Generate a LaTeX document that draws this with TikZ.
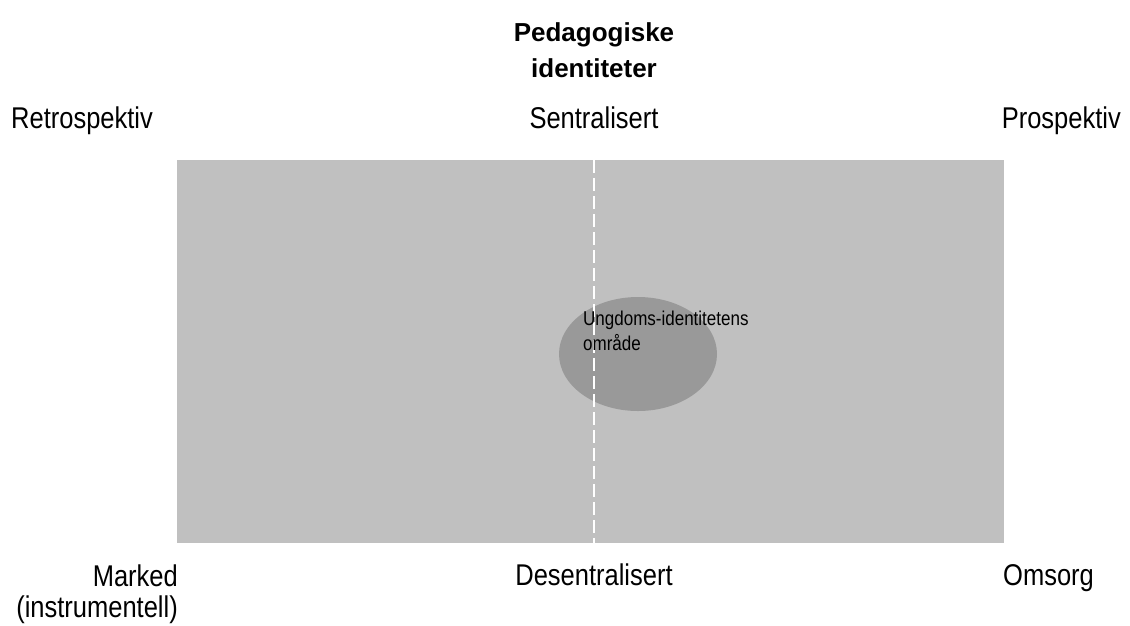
\documentclass[tikz,border=0pt]{standalone}
\usepackage{fontspec}
\setmainfont{Liberation Sans}
\newfontfamily\narrowfont[FakeStretch=0.85]{Liberation Sans}
\usetikzlibrary{shapes.geometric}
\begin{document}
\begin{tikzpicture}[x=1pt,y=-1pt,
  lbl/.style={font=\narrowfont\fontsize{30}{31}\selectfont, inner sep=0pt},
  ttl/.style={font=\fontsize{26}{36}\selectfont\bfseries, inner sep=0pt, align=center},
  small/.style={font=\narrowfont\fontsize{20}{25}\selectfont, inner sep=0pt, align=left}]
\useasboundingbox (0,0) rectangle (1130,625);
\fill[fill=white] (0,0) rectangle (1130,625);
\node[fill={rgb,255:red,192;green,192;blue,192}, minimum width=827pt, minimum height=383pt, inner sep=0pt, anchor=north west] (field) at (177,160) {};
\node[ellipse, fill={rgb,255:red,153;green,153;blue,153}, minimum width=158pt, minimum height=114pt, inner sep=0pt] (zone) at (638,354) {};
\coordinate (ctop) at (594,160);
\coordinate (cbot) at (594,543);
\draw[white, line width=1.5pt, dash pattern=on 13pt off 5pt] (ctop) -- (cbot);
\node[ttl, anchor=base] (title) at (594,77) {Pedagogiske\\identiteter};
\node[lbl, anchor=base west] (retro) at (11,128) {Retrospektiv};
\node[lbl, anchor=base] (sentr) at (594,128) {Sentralisert};
\node[lbl, anchor=base east] (pros) at (1121,128) {Prospektiv};
\node[lbl, anchor=base east, align=right] (mark) at (178,617) {Marked\\(instrumentell)};
\node[lbl, anchor=base] (desentr) at (594,585) {Desentralisert};
\node[lbl, anchor=base west] (oms) at (1003,585) {Omsorg};
\node[small, anchor=base west] (ung) at (583,350) {Ungdoms-identitetens\\område};
\end{tikzpicture}
\end{document}
